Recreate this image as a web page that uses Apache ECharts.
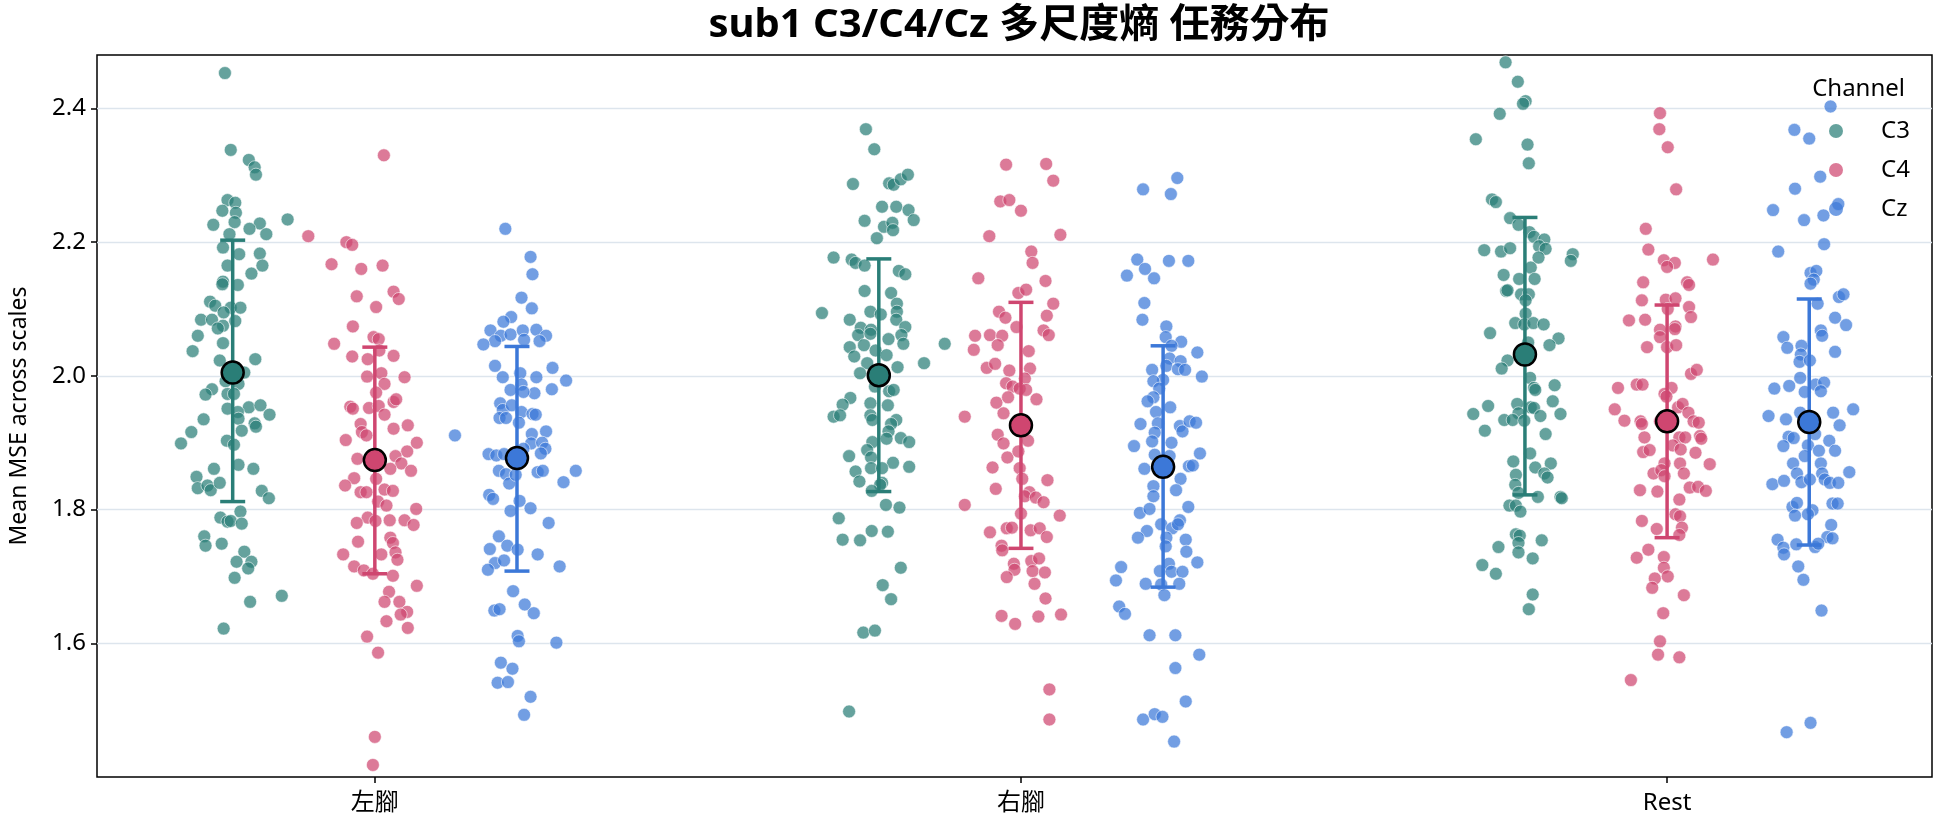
<!DOCTYPE html>
<html>
<head>
<meta charset="utf-8">
<script src="https://cdn.jsdelivr.net/npm/echarts@6/dist/echarts.min.js"></script>
<style>
  html, body { margin: 0; padding: 0; background: #fff; }
  #chart { width: 1944px; height: 827px; }
</style>
</head>
<body>
<div id="chart"></div>
<script>
const tasks = ['左腳', '右腳', 'Rest']
const channels = ['C3', 'C4', 'Cz']
const dodge = [-0.22, 0, 0.22]
const yTicks = [1.6, 1.8, 2.0, 2.2, 2.4]

// 每個點: [抖動, 數值]
const c3Left = [[-0.012,2.453],[-0.003,2.338],[0.025,2.323],[0.034,2.312],[0.036,2.301],[-0.008,2.263],[0.004,2.259],[-0.016,2.247],[0.005,2.244],[-0.030,2.226],[0.003,2.230],[0.085,2.234],[0.042,2.228],[0.026,2.220],[0.052,2.212],[-0.005,2.212],[-0.015,2.192],[0.010,2.182],[0.042,2.183],[-0.008,2.165],[0.046,2.165],[0.029,2.153],[-0.015,2.141],[0.008,2.136],[-0.016,2.137],[-0.035,2.111],[-0.027,2.105],[-0.003,2.102],[0.012,2.102],[-0.014,2.095],[-0.049,2.084],[-0.032,2.084],[0.004,2.082],[-0.015,2.075],[-0.023,2.071],[-0.054,2.060],[-0.015,2.049],[-0.062,2.037],[-0.020,2.023],[0.035,2.025],[0.018,2.005],[-0.011,1.992],[0.009,1.988],[-0.032,1.980],[-0.042,1.972],[-0.008,1.973],[0.002,1.973],[0.025,1.953],[-0.008,1.951],[0.008,1.946],[0.043,1.956],[0.057,1.942],[-0.045,1.935],[0.009,1.936],[0.034,1.929],[0.036,1.924],[0.014,1.918],[-0.064,1.916],[-0.080,1.899],[-0.009,1.903],[0.002,1.897],[0.009,1.867],[0.032,1.861],[-0.029,1.861],[-0.056,1.849],[-0.054,1.832],[-0.039,1.836],[-0.034,1.829],[-0.020,1.840],[0.045,1.828],[0.056,1.817],[0.012,1.797],[-0.019,1.788],[-0.008,1.782],[-0.003,1.783],[0.014,1.779],[-0.044,1.760],[-0.042,1.746],[-0.017,1.749],[0.018,1.737],[0.006,1.722],[0.029,1.722],[0.024,1.712],[0.003,1.698],[0.027,1.662],[0.076,1.671],[-0.014,1.622]]
const c4Left = [[0.014,2.330],[-0.103,2.209],[-0.044,2.200],[-0.035,2.196],[-0.067,2.167],[-0.021,2.160],[0.012,2.165],[-0.028,2.119],[0.029,2.126],[0.037,2.115],[0.002,2.103],[-0.034,2.074],[-0.063,2.048],[-0.002,2.058],[0.006,2.055],[-0.035,2.029],[-0.011,2.025],[0.029,2.030],[0.007,2.038],[-0.012,1.999],[0.010,2.004],[0.046,1.998],[0.015,1.988],[0.002,1.975],[-0.038,1.954],[-0.034,1.951],[-0.009,1.952],[0.006,1.955],[0.029,1.961],[0.033,1.965],[0.015,1.942],[-0.022,1.928],[-0.020,1.916],[-0.013,1.911],[0.029,1.921],[0.051,1.926],[-0.045,1.904],[0.065,1.900],[0.050,1.887],[-0.027,1.876],[0.032,1.880],[0.041,1.869],[0.024,1.861],[0.056,1.858],[-0.032,1.847],[0.002,1.846],[-0.046,1.836],[-0.022,1.826],[-0.013,1.826],[0.015,1.830],[0.028,1.828],[0.005,1.812],[0.018,1.806],[0.064,1.801],[-0.011,1.788],[-0.028,1.780],[0.001,1.783],[0.023,1.784],[0.046,1.784],[0.060,1.777],[0.024,1.758],[0.028,1.750],[-0.026,1.752],[-0.049,1.733],[0.010,1.733],[0.032,1.736],[0.035,1.725],[-0.032,1.715],[-0.017,1.709],[-0.003,1.704],[0.028,1.701],[0.065,1.686],[0.022,1.677],[0.015,1.662],[0.038,1.662],[0.050,1.647],[0.040,1.643],[0.018,1.633],[0.051,1.623],[-0.012,1.610],[0.005,1.586],[0.000,1.460],[-0.003,1.418]]
const czLeft = [[-0.018,2.220],[0.021,2.178],[0.024,2.152],[0.007,2.117],[0.023,2.101],[-0.009,2.088],[-0.021,2.081],[-0.041,2.068],[-0.025,2.060],[-0.010,2.062],[0.009,2.068],[0.030,2.069],[0.045,2.060],[-0.034,2.052],[-0.052,2.047],[0.011,2.054],[0.035,2.052],[-0.034,2.015],[0.055,2.012],[-0.022,1.998],[0.005,2.004],[0.030,1.998],[0.076,1.993],[-0.010,1.979],[0.007,1.987],[0.027,1.974],[0.054,1.980],[0.010,1.976],[-0.026,1.959],[-0.022,1.949],[-0.008,1.956],[0.007,1.946],[0.024,1.943],[0.029,1.942],[-0.027,1.937],[-0.017,1.937],[0.003,1.930],[-0.096,1.911],[0.023,1.913],[0.045,1.917],[0.022,1.899],[0.039,1.900],[0.044,1.891],[0.037,1.884],[-0.044,1.883],[-0.032,1.881],[-0.020,1.883],[0.010,1.891],[-0.028,1.858],[-0.017,1.853],[-0.012,1.839],[-0.002,1.852],[0.032,1.856],[0.040,1.858],[0.091,1.858],[0.072,1.841],[-0.043,1.822],[-0.037,1.816],[0.004,1.813],[-0.010,1.798],[0.021,1.802],[0.049,1.780],[-0.028,1.760],[-0.042,1.741],[-0.015,1.746],[0.001,1.740],[-0.034,1.720],[-0.045,1.710],[-0.020,1.724],[0.032,1.733],[0.066,1.715],[-0.006,1.678],[-0.035,1.649],[-0.027,1.651],[0.012,1.658],[0.026,1.645],[0.001,1.611],[0.003,1.603],[0.061,1.601],[-0.025,1.571],[-0.007,1.562],[-0.030,1.541],[-0.014,1.542],[0.021,1.520],[0.011,1.493]]

const c3Right = [[-0.020,2.369],[-0.007,2.339],[-0.040,2.287],[0.016,2.288],[0.023,2.286],[0.034,2.294],[0.045,2.301],[0.005,2.253],[0.027,2.253],[0.046,2.248],[0.054,2.233],[-0.022,2.232],[0.008,2.223],[0.021,2.229],[0.022,2.218],[-0.003,2.206],[-0.070,2.177],[-0.042,2.174],[-0.036,2.169],[-0.022,2.165],[0.031,2.157],[0.041,2.152],[-0.022,2.127],[0.019,2.124],[0.028,2.108],[-0.088,2.094],[-0.013,2.096],[0.003,2.092],[0.028,2.096],[0.027,2.084],[-0.045,2.084],[-0.028,2.072],[-0.012,2.069],[0.041,2.073],[-0.032,2.061],[0.035,2.061],[-0.013,2.063],[0.015,2.055],[-0.023,2.046],[-0.045,2.043],[0.038,2.048],[0.102,2.048],[-0.038,2.029],[-0.005,2.038],[0.012,2.031],[0.070,2.019],[0.029,2.013],[-0.018,2.019],[-0.029,2.004],[-0.006,1.984],[0.016,1.977],[0.023,1.979],[-0.044,1.967],[-0.056,1.957],[-0.013,1.959],[0.014,1.956],[-0.070,1.939],[-0.060,1.941],[-0.013,1.941],[-0.010,1.934],[0.027,1.934],[0.019,1.928],[0.015,1.917],[0.034,1.907],[0.012,1.906],[-0.010,1.901],[0.047,1.901],[-0.018,1.889],[-0.046,1.880],[-0.012,1.878],[0.022,1.870],[0.047,1.864],[-0.012,1.862],[0.005,1.862],[-0.036,1.857],[-0.030,1.842],[0.005,1.840],[0.002,1.837],[-0.011,1.828],[0.011,1.807],[0.032,1.803],[-0.062,1.787],[-0.056,1.755],[-0.029,1.754],[-0.011,1.768],[0.014,1.767],[0.034,1.713],[0.006,1.687],[0.019,1.666],[-0.024,1.616],[-0.006,1.619],[-0.046,1.498]]
const c4Right = [[-0.023,2.316],[0.039,2.317],[0.050,2.292],[-0.032,2.261],[-0.018,2.263],[0.000,2.247],[-0.049,2.209],[0.061,2.211],[0.016,2.186],[0.018,2.169],[-0.066,2.146],[0.038,2.142],[-0.004,2.124],[0.008,2.129],[0.050,2.108],[-0.034,2.096],[-0.024,2.087],[0.040,2.090],[-0.007,2.073],[0.035,2.068],[0.043,2.061],[-0.071,2.060],[-0.048,2.061],[-0.029,2.060],[-0.036,2.046],[-0.073,2.039],[0.012,2.037],[-0.053,2.012],[-0.040,2.018],[0.014,2.011],[-0.018,2.008],[0.006,1.996],[-0.023,1.989],[-0.013,1.984],[-0.002,1.981],[0.008,1.979],[0.024,1.965],[-0.038,1.960],[-0.020,1.968],[-0.087,1.939],[-0.027,1.944],[-0.036,1.912],[-0.027,1.899],[-0.021,1.878],[0.011,1.903],[-0.004,1.887],[-0.002,1.862],[-0.044,1.863],[0.002,1.846],[0.041,1.844],[-0.039,1.831],[0.013,1.826],[0.006,1.820],[0.023,1.818],[0.035,1.811],[-0.087,1.807],[0.000,1.794],[0.060,1.791],[-0.048,1.766],[-0.022,1.772],[-0.014,1.773],[0.015,1.769],[0.029,1.772],[0.040,1.759],[-0.030,1.746],[-0.029,1.739],[-0.011,1.719],[-0.010,1.710],[0.016,1.723],[0.028,1.727],[0.018,1.708],[0.037,1.706],[-0.022,1.699],[0.021,1.689],[0.038,1.667],[-0.030,1.641],[-0.009,1.629],[0.027,1.640],[0.062,1.643],[0.044,1.531],[0.044,1.486]]
const czRight = [[-0.031,2.279],[0.022,2.296],[0.012,2.272],[-0.040,2.174],[-0.028,2.160],[-0.056,2.150],[-0.014,2.146],[0.009,2.172],[0.039,2.172],[-0.029,2.109],[-0.032,2.084],[0.005,2.074],[0.004,2.058],[0.028,2.051],[0.013,2.045],[0.053,2.035],[0.010,2.026],[0.027,2.022],[0.005,2.015],[0.023,2.010],[0.034,2.009],[-0.017,2.009],[0.060,1.999],[0.000,1.994],[-0.015,1.992],[-0.006,1.981],[-0.015,1.968],[-0.024,1.962],[-0.011,1.946],[0.011,1.953],[-0.035,1.928],[-0.008,1.929],[-0.013,1.915],[0.026,1.925],[0.030,1.917],[0.041,1.932],[0.051,1.930],[-0.045,1.895],[-0.017,1.902],[0.013,1.900],[-0.013,1.882],[0.010,1.880],[0.057,1.884],[0.040,1.865],[0.046,1.866],[-0.029,1.861],[0.027,1.846],[0.020,1.829],[-0.015,1.835],[-0.015,1.820],[-0.036,1.795],[-0.021,1.801],[0.039,1.804],[-0.003,1.778],[0.014,1.772],[0.026,1.784],[0.023,1.778],[-0.025,1.768],[-0.039,1.758],[0.005,1.758],[0.035,1.755],[0.004,1.745],[0.036,1.737],[0.053,1.721],[-0.065,1.714],[-0.073,1.694],[-0.005,1.708],[0.009,1.719],[0.013,1.707],[0.030,1.707],[-0.027,1.689],[-0.003,1.688],[0.025,1.689],[0.002,1.672],[-0.068,1.655],[-0.059,1.644],[-0.021,1.612],[0.019,1.612],[0.056,1.583],[0.019,1.563],[0.035,1.513],[-0.031,1.486],[-0.013,1.494],[-0.001,1.490],[0.017,1.453]]

const c3Rest = [[-0.030,2.469],[-0.011,2.440],[0.001,2.411],[-0.003,2.407],[-0.039,2.392],[-0.076,2.354],[0.004,2.346],[0.006,2.318],[-0.051,2.264],[-0.045,2.260],[-0.023,2.236],[-0.010,2.226],[0.007,2.215],[0.014,2.208],[0.030,2.204],[0.022,2.194],[0.032,2.190],[-0.063,2.188],[-0.037,2.186],[-0.023,2.191],[0.074,2.182],[0.071,2.172],[0.021,2.177],[0.009,2.162],[-0.033,2.151],[-0.009,2.145],[0.015,2.145],[-0.029,2.127],[-0.027,2.128],[-0.006,2.122],[0.006,2.122],[0.001,2.113],[0.001,2.093],[-0.015,2.079],[-0.001,2.077],[0.013,2.079],[0.029,2.077],[-0.054,2.064],[0.005,2.050],[0.052,2.056],[0.038,2.046],[-0.027,2.023],[-0.036,2.011],[0.008,1.997],[0.014,1.982],[0.016,1.979],[0.046,1.986],[0.043,1.962],[-0.057,1.955],[-0.012,1.958],[0.009,1.953],[0.014,1.952],[-0.080,1.943],[-0.010,1.944],[0.055,1.943],[0.024,1.940],[-0.032,1.934],[-0.019,1.934],[-0.001,1.933],[-0.062,1.918],[0.032,1.913],[0.008,1.884],[-0.018,1.872],[0.040,1.869],[0.016,1.863],[0.030,1.854],[0.035,1.848],[-0.014,1.852],[-0.015,1.837],[-0.010,1.825],[0.020,1.819],[0.055,1.819],[0.057,1.817],[-0.024,1.806],[-0.014,1.806],[-0.007,1.797],[-0.014,1.763],[-0.008,1.761],[-0.010,1.750],[-0.010,1.736],[0.026,1.754],[-0.041,1.744],[0.012,1.727],[-0.066,1.717],[-0.045,1.704],[0.012,1.673],[0.006,1.651]]
const c4Rest = [[-0.011,2.393],[-0.012,2.369],[0.001,2.342],[0.014,2.279],[-0.033,2.220],[-0.029,2.189],[-0.005,2.173],[0.012,2.169],[0.000,2.163],[0.071,2.174],[-0.037,2.140],[0.031,2.140],[0.034,2.136],[-0.039,2.113],[-0.002,2.114],[0.013,2.116],[0.034,2.103],[-0.059,2.083],[-0.034,2.084],[0.037,2.088],[0.001,2.100],[-0.011,2.069],[0.013,2.074],[0.012,2.070],[-0.011,2.058],[-0.031,2.043],[0.000,2.043],[0.014,2.046],[0.037,2.003],[0.046,2.009],[-0.076,1.982],[-0.047,1.987],[-0.038,1.987],[0.007,1.982],[-0.004,1.973],[-0.001,1.969],[-0.081,1.950],[0.017,1.953],[0.024,1.958],[0.033,1.945],[-0.066,1.933],[-0.041,1.932],[-0.039,1.928],[-0.011,1.932],[0.041,1.932],[0.049,1.930],[-0.035,1.908],[0.019,1.908],[0.028,1.908],[0.051,1.910],[0.053,1.906],[0.009,1.896],[-0.037,1.886],[-0.027,1.889],[0.021,1.890],[0.044,1.885],[0.066,1.868],[-0.004,1.869],[0.020,1.869],[-0.021,1.854],[-0.009,1.859],[-0.004,1.850],[0.026,1.854],[0.035,1.833],[0.048,1.834],[0.060,1.828],[-0.042,1.829],[-0.015,1.827],[0.019,1.815],[0.013,1.793],[0.020,1.790],[-0.039,1.783],[-0.016,1.771],[0.023,1.773],[0.019,1.762],[-0.029,1.740],[-0.047,1.728],[-0.005,1.729],[-0.005,1.713],[-0.019,1.697],[0.001,1.700],[-0.023,1.683],[0.026,1.672],[-0.006,1.645],[-0.011,1.603],[-0.014,1.583],[0.019,1.579],[-0.056,1.545]]
const czRest = [[0.033,2.403],[-0.023,2.368],[0.000,2.355],[0.017,2.298],[-0.022,2.280],[-0.056,2.248],[-0.008,2.233],[0.022,2.240],[0.045,2.257],[0.023,2.197],[-0.048,2.186],[0.002,2.154],[0.011,2.157],[0.007,2.144],[0.002,2.138],[0.046,2.118],[0.053,2.122],[0.013,2.108],[0.040,2.087],[0.057,2.076],[0.018,2.068],[0.020,2.060],[-0.040,2.058],[-0.034,2.042],[-0.012,2.045],[-0.013,2.032],[-0.015,2.021],[0.040,2.036],[0.001,2.023],[-0.014,1.997],[-0.054,1.981],[-0.031,1.985],[0.010,1.987],[0.023,1.990],[0.018,1.977],[-0.007,1.976],[0.068,1.950],[-0.063,1.940],[-0.036,1.935],[-0.014,1.945],[0.037,1.945],[0.047,1.926],[-0.032,1.909],[-0.024,1.907],[0.009,1.913],[-0.040,1.895],[-0.002,1.896],[0.031,1.903],[0.040,1.888],[0.015,1.888],[-0.007,1.880],[-0.025,1.869],[0.018,1.869],[-0.019,1.854],[0.020,1.854],[-0.012,1.841],[0.001,1.845],[0.024,1.845],[0.032,1.840],[0.045,1.840],[-0.057,1.838],[-0.039,1.843],[0.062,1.856],[-0.026,1.804],[-0.019,1.810],[-0.022,1.791],[0.005,1.799],[0.036,1.809],[0.044,1.809],[-0.002,1.793],[0.034,1.777],[0.028,1.759],[0.036,1.757],[-0.049,1.755],[-0.040,1.743],[-0.039,1.733],[-0.020,1.748],[0.009,1.744],[0.014,1.749],[-0.017,1.715],[-0.009,1.695],[0.019,1.649],[-0.035,1.467],[0.002,1.481]]

// 平均值與誤差線 (左腳, 右腳, Rest)
const meanC3 = [2.005, 2.001, 2.032]
const lowC3 = [1.812, 1.827, 1.822]
const highC3 = [2.203, 2.175, 2.237]
const meanC4 = [1.874, 1.926, 1.932]
const lowC4 = [1.704, 1.742, 1.758]
const highC4 = [2.043, 2.110, 2.106]
const meanCz = [1.877, 1.864, 1.931]
const lowCz = [1.708, 1.684, 1.747]
const highCz = [2.044, 2.045, 2.115]

const points = [[c3Left, c3Right, c3Rest], [c4Left, c4Right, c4Rest], [czLeft, czRight, czRest]]
const means = [meanC3, meanC4, meanCz]
const lows = [lowC3, lowC4, lowCz]
const highs = [highC3, highC4, highCz]

const baseColors = ['#2a7e77', '#cf4670', '#3c78d8']
const fontFamily = "'Noto Sans', 'Noto Sans CJK TC', sans-serif"

let series = []
channels.forEach((ch, ci) => {
  let data = []
  points[ci].forEach((pts, ti) => {
    for (let p of pts) {
      data.push([ti + dodge[ci] + p[0], p[1]])
    }
  })
  series.push({
    name: ch,
    type: 'scatter',
    data: data,
    symbolSize: 13,
    z: 2,
    itemStyle: {
      color: baseColors[ci],
      opacity: 0.72,
      borderColor: '#fff',
      borderWidth: 0.8
    }
  })
})

channels.forEach((ch, ci) => {
  let errData = tasks.map((t, ti) => [ti + dodge[ci], lows[ci][ti], highs[ci][ti]])
  series.push({
    name: ch + ' sd',
    type: 'custom',
    z: 3,
    data: errData,
    renderItem: (params, api) => {
      const x = api.value(0)
      const top = api.coord([x, api.value(2)])
      const bot = api.coord([x, api.value(1)])
      const w = 12.5
      const st = {stroke: baseColors[ci], lineWidth: 3.5}
      return {
        type: 'group',
        children: [
          {type: 'line', shape: {x1: top[0], y1: top[1], x2: bot[0], y2: bot[1]}, style: st},
          {type: 'line', shape: {x1: top[0] - w, y1: top[1], x2: top[0] + w, y2: top[1]}, style: st},
          {type: 'line', shape: {x1: bot[0] - w, y1: bot[1], x2: bot[0] + w, y2: bot[1]}, style: st}
        ]
      }
    }
  })
  series.push({
    name: ch + ' mean',
    type: 'scatter',
    z: 4,
    symbolSize: 22,
    data: tasks.map((t, ti) => [ti + dodge[ci], means[ci][ti]]),
    itemStyle: {color: baseColors[ci], borderColor: '#000', borderWidth: 2.5, opacity: 1}
  })
})

const chart = echarts.init(document.getElementById('chart'))
chart.setOption({
  animation: false,
  textStyle: {fontFamily: fontFamily},
  title: [
    {
      text: 'sub1 C3/C4/Cz 多尺度熵 任務分布',
      left: 1014,
      textAlign: 'center',
      top: 1,
      textStyle: {fontSize: 40, fontWeight: 'bold', color: '#000', fontFamily: fontFamily}
    },
    {
      text: 'Channel',
      right: 34,
      top: 72,
      textStyle: {fontSize: 24, fontWeight: 'normal', color: '#000', fontFamily: fontFamily}
    }
  ],
  legend: {
    data: channels.map((ch, ci) => ({name: ch, itemStyle: {color: baseColors[ci], borderWidth: 0}})),
    orient: 'vertical',
    left: 1824,
    top: 113,
    icon: 'circle',
    itemWidth: 80,
    itemHeight: 14,
    itemGap: 13,
    textStyle: {fontSize: 24, color: '#000', lineHeight: 26, fontFamily: fontFamily}
  },
  grid: {
    left: 97,
    right: 12,
    top: 55,
    bottom: 50,
    show: true,
    borderColor: '#000',
    borderWidth: 1.5
  },
  xAxis: {
    type: 'value',
    min: -0.43,
    max: 2.41,
    splitLine: {show: false},
    axisLine: {show: false, onZero: false},
    axisTick: {show: true, length: 6, inside: false, customValues: [0, 1, 2], lineStyle: {color: '#000', width: 1.5}},
    axisLabel: {
      customValues: [0, 1, 2],
      formatter: (v) => tasks[Math.round(v)],
      fontSize: 24,
      color: '#000',
      margin: 14
    }
  },
  yAxis: {
    type: 'value',
    min: 1.4,
    max: 2.48,
    name: 'Mean MSE across scales',
    nameLocation: 'middle',
    nameGap: 66,
    nameTextStyle: {fontSize: 23, color: '#000'},
    axisLine: {show: false, onZero: false},
    axisTick: {show: true, length: 6, customValues: yTicks, lineStyle: {color: '#000', width: 1.5}},
    axisLabel: {
      customValues: yTicks,
      formatter: (v) => v.toFixed(1),
      fontSize: 24,
      color: '#000',
      margin: 11
    },
    splitLine: {show: true, lineStyle: {color: '#dde5ed', width: 1.3}}
  },
  series: series
})
</script>
</body>
</html>
